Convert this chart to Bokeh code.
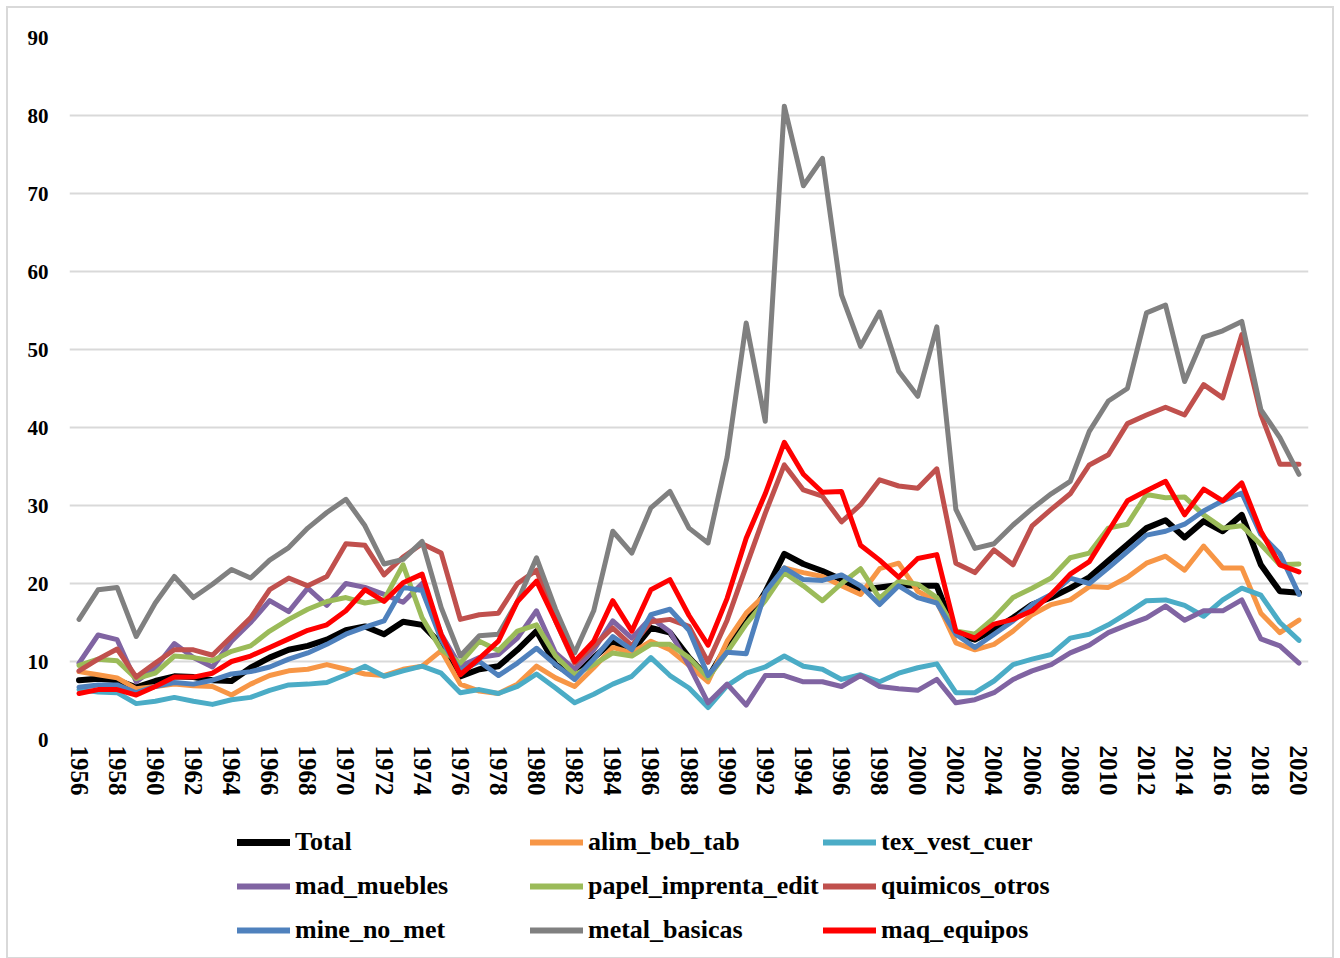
from bokeh.plotting import figure
from bokeh.layouts import column
from bokeh.models import Range1d, FixedTicker, Legend, LegendItem
from bokeh.embed import file_html
from bokeh.resources import INLINE

years = list(range(1956, 2021))

total = [7.6, 7.8, 7.6, 6.7, 7.5, 8.1, 8.0, 7.6, 7.5, 9.2,
         10.5, 11.5, 12.0, 12.8, 14.0, 14.5, 13.5, 15.1, 14.7, 12.2,
         8.1, 9.0, 9.4, 11.5, 13.9, 9.6, 8.1, 10.5, 12.6, 11.3,
         14.3, 13.7, 10.5, 7.9, 12.0, 15.0, 18.9, 23.8, 22.5, 21.6,
         20.5, 19.2, 19.5, 19.8, 19.7, 19.7, 13.5, 12.8, 14.1, 15.6,
         17.3, 18.2, 19.4, 20.8, 22.9, 25.0, 27.1, 28.1, 25.9, 28.0,
         26.7, 28.8, 22.4, 19.0, 18.8]

alim_beb_tab = [8.7, 8.3, 7.9, 6.5, 6.8, 7.1, 6.9, 6.8, 5.7, 7.1,
                8.2, 8.8, 9.0, 9.6, 9.0, 8.4, 8.2, 9.0, 9.4, 11.4,
                7.1, 6.2, 5.9, 7.1, 9.4, 7.9, 6.8, 9.2, 11.8, 11.1,
                12.6, 11.5, 9.5, 7.4, 12.6, 16.2, 18.6, 22.0, 21.4, 20.9,
                19.7, 18.6, 21.9, 22.6, 19.0, 17.7, 12.4, 11.5, 12.2, 13.9,
                16.0, 17.3, 17.9, 19.6, 19.5, 20.8, 22.6, 23.5, 21.7, 24.8,
                22.0, 22.0, 16.2, 13.7, 15.3]

tex_vest_cuer = [6.4, 6.1, 6.0, 4.6, 4.9, 5.4, 4.9, 4.5, 5.1, 5.4,
                 6.3, 7.0, 7.1, 7.3, 8.3, 9.4, 8.1, 8.8, 9.4, 8.5,
                 6.0, 6.4, 5.9, 6.8, 8.4, 6.6, 4.7, 5.8, 7.1, 8.1,
                 10.5, 8.2, 6.6, 4.1, 6.9, 8.5, 9.3, 10.7, 9.4, 9.0,
                 7.7, 8.3, 7.4, 8.5, 9.2, 9.7, 6.0, 6.0, 7.5, 9.6,
                 10.3, 10.9, 13.0, 13.5, 14.7, 16.2, 17.8, 17.9, 17.2, 15.8,
                 17.9, 19.4, 18.5, 15.0, 12.7]

mad_muebles = [9.8, 13.4, 12.8, 7.4, 9.2, 12.3, 10.5, 9.3, 12.6, 15.0,
               17.8, 16.4, 19.4, 17.2, 20.0, 19.5, 18.6, 17.6, 20.0, 13.5,
               9.4, 10.5, 10.9, 13.0, 16.5, 11.1, 9.0, 11.5, 15.2, 13.0,
               15.6, 13.8, 9.5, 4.7, 7.1, 4.4, 8.2, 8.2, 7.4, 7.4,
               6.8, 8.2, 6.8, 6.5, 6.3, 7.7, 4.7, 5.1, 6.0, 7.7,
               8.8, 9.6, 11.1, 12.1, 13.7, 14.7, 15.6, 17.1, 15.3, 16.5,
               16.5, 17.9, 12.9, 12.0, 9.8]

papel_imprenta_edit = [9.5, 10.3, 10.1, 7.8, 8.5, 10.7, 10.5, 10.1, 11.3, 12.0,
                       13.9, 15.4, 16.7, 17.7, 18.2, 17.5, 17.9, 22.4, 15.6, 11.5,
                       9.8, 12.6, 11.4, 13.9, 14.7, 10.7, 8.3, 9.6, 11.1, 10.7,
                       12.2, 12.2, 10.5, 7.9, 11.2, 14.8, 17.8, 21.4, 19.7, 17.8,
                       20.0, 21.9, 18.1, 20.3, 19.9, 18.2, 13.9, 13.5, 15.6, 18.2,
                       19.4, 20.7, 23.3, 23.9, 27.1, 27.6, 31.4, 31.0, 31.1, 28.8,
                       27.1, 27.4, 25.0, 22.4, 22.5]

quimicos_otros = [8.8, 10.3, 11.6, 8.0, 9.8, 11.5, 11.5, 10.8, 13.2, 15.6,
                  19.2, 20.7, 19.7, 20.9, 25.1, 24.9, 21.1, 23.4, 25.1, 23.9,
                  15.4, 16.0, 16.2, 20.0, 21.7, 15.2, 9.8, 12.0, 14.3, 12.0,
                  15.1, 15.4, 14.5, 9.9, 15.3, 22.2, 29.0, 35.2, 32.0, 31.2,
                  27.9, 30.1, 33.3, 32.5, 32.2, 34.7, 22.6, 21.4, 24.3, 22.4,
                  27.4, 29.5, 31.5, 35.2, 36.5, 40.5, 41.6, 42.6, 41.6, 45.5,
                  43.8, 51.9, 41.7, 35.3, 35.3]

mine_no_met = [6.7, 7.0, 7.0, 6.0, 6.8, 7.3, 7.1, 7.6, 8.4, 8.7,
               9.3, 10.3, 11.1, 12.2, 13.5, 14.4, 15.2, 19.5, 19.1, 12.8,
               8.8, 10.0, 8.2, 9.8, 11.7, 9.6, 7.7, 10.3, 13.2, 11.5,
               16.0, 16.7, 14.0, 8.2, 11.2, 11.0, 18.9, 22.0, 20.5, 20.4,
               21.1, 19.7, 17.3, 19.7, 18.2, 17.5, 13.5, 11.8, 13.5, 15.2,
               17.3, 18.6, 20.7, 20.0, 22.0, 24.1, 26.2, 26.7, 27.6, 29.3,
               30.6, 31.6, 26.3, 23.8, 18.6]

metal_basicas = [15.4, 19.2, 19.5, 13.2, 17.5, 20.9, 18.2, 19.9, 21.8, 20.7,
                 23.0, 24.6, 27.1, 29.1, 30.8, 27.4, 22.5, 23.1, 25.4, 16.9,
                 10.7, 13.3, 13.5, 17.7, 23.3, 16.7, 11.1, 16.5, 26.7, 23.9,
                 29.7, 31.8, 27.1, 25.2, 36.2, 53.4, 40.8, 81.2, 71.0, 74.5,
                 57.0, 50.4, 54.8, 47.2, 44.0, 52.9, 29.5, 24.5, 25.1, 27.5,
                 29.6, 31.5, 33.1, 39.5, 43.4, 45.0, 54.7, 55.7, 45.9, 51.6,
                 52.4, 53.6, 42.3, 38.7, 34.0]

maq_equipos = [5.9, 6.4, 6.4, 5.7, 6.8, 8.0, 8.0, 8.5, 10.0, 10.7,
               11.8, 12.9, 14.0, 14.7, 16.5, 19.2, 17.7, 20.1, 21.2, 13.5,
               8.3, 10.4, 12.6, 17.7, 20.3, 15.2, 10.0, 12.6, 17.8, 13.9,
               19.2, 20.5, 15.9, 12.1, 18.1, 25.8, 31.5, 38.1, 34.0, 31.7,
               31.8, 24.9, 23.0, 20.8, 23.2, 23.7, 13.9, 13.0, 14.8, 15.4,
               16.5, 18.6, 21.2, 22.8, 26.7, 30.6, 31.9, 33.1, 28.8, 32.1,
               30.6, 32.9, 26.7, 22.4, 21.5]

series_names = ["Total", "alim_beb_tab", "tex_vest_cuer", "mad_muebles",
                "papel_imprenta_edit", "quimicos_otros", "mine_no_met",
                "metal_basicas", "maq_equipos"]
series_values = [total, alim_beb_tab, tex_vest_cuer, mad_muebles,
                 papel_imprenta_edit, quimicos_otros, mine_no_met,
                 metal_basicas, maq_equipos]
colors = ["#000000", "#F79646", "#4BACC6", "#8064A2", "#9BBB59",
          "#C0504D", "#4F81BD", "#808080", "#FF0000"]
# legend fills column by column: this order gives rows
# Total/alim/tex, mad/papel/quimicos, mine/metal/maq
legend_order = [0, 3, 6, 1, 4, 7, 2, 5, 8]

y_ticks = [0, 10, 20, 30, 40, 50, 60, 70, 80, 90]
x_ticks = list(range(1956, 2021, 2))

FONT = "Liberation Serif"
BORDER = "#D9D9D9"

p = figure(frame_width=1239, frame_height=702,
           x_range=Range1d(1955.5, 2020.5), y_range=Range1d(0, 90),
           output_backend="svg", toolbar_location=None,
           min_border_left=61, min_border_top=29, min_border_right=24,
           min_border_bottom=62)
p.outline_line_color = None
p.background_fill_color = "white"
p.border_fill_color = "white"

p.xgrid.grid_line_color = None
p.ygrid.grid_line_color = BORDER
p.ygrid.grid_line_width = 2
p.yaxis.ticker = FixedTicker(ticks=y_ticks)
p.xaxis.ticker = FixedTicker(ticks=x_ticks)

for ax in (p.xaxis, p.yaxis):
    ax.axis_line_color = None
    ax.major_tick_line_color = None
    ax.minor_tick_line_color = None
    ax.major_label_text_font = FONT
    ax.major_label_text_font_style = "bold"
    ax.major_label_text_color = "#000000"

p.yaxis.major_label_text_font_size = "21px"
p.yaxis.major_label_standoff = 15
p.xaxis.major_label_text_font_size = "25px"
p.xaxis.major_label_orientation = "vertical"
p.xaxis.major_label_standoff = 0

def width_for(name):
    return 6 if name == "Total" else 5

for name, vals, col in zip(series_names, series_values, colors):
    p.line(years, vals, line_color=col, line_width=width_for(name),
           line_join="round", line_cap="round")

# Legend panel below the chart (its sample lines lie outside its view)
lf = figure(width=1324, height=156, x_range=Range1d(1, 2), y_range=Range1d(1, 2),
            output_backend="svg", toolbar_location=None,
            min_border_left=0, min_border_right=0, min_border_top=0,
            min_border_bottom=0)
lf.axis.visible = False
lf.grid.visible = False
lf.outline_line_color = None
lf.background_fill_color = "white"
lf.border_fill_color = "white"

renderers = []
for name, col in zip(series_names, colors):
    r = lf.line([0, 0], [0, 0], line_color=col, line_width=width_for(name) + 1,
                line_cap="round")
    renderers.append(r)

items = [LegendItem(label=series_names[i], renderers=[renderers[i]])
         for i in legend_order]

legend = Legend(items=items, ncols=3, location=(168, 7),
                label_text_font=FONT, label_text_font_style="bold",
                label_text_font_size="26px", label_text_color="#000000",
                glyph_width=53, glyph_height=40, label_standoff=5,
                label_width=231, spacing=4, padding=0, margin=0,
                border_line_color=None, background_fill_alpha=0)
lf.add_layout(legend, "center")

layout = column(p, lf, spacing=0,
                styles={"border": "2px solid " + BORDER,
                        "margin-left": "6px", "margin-top": "6px"})
open("out.html", "w").write(file_html(layout, INLINE))
